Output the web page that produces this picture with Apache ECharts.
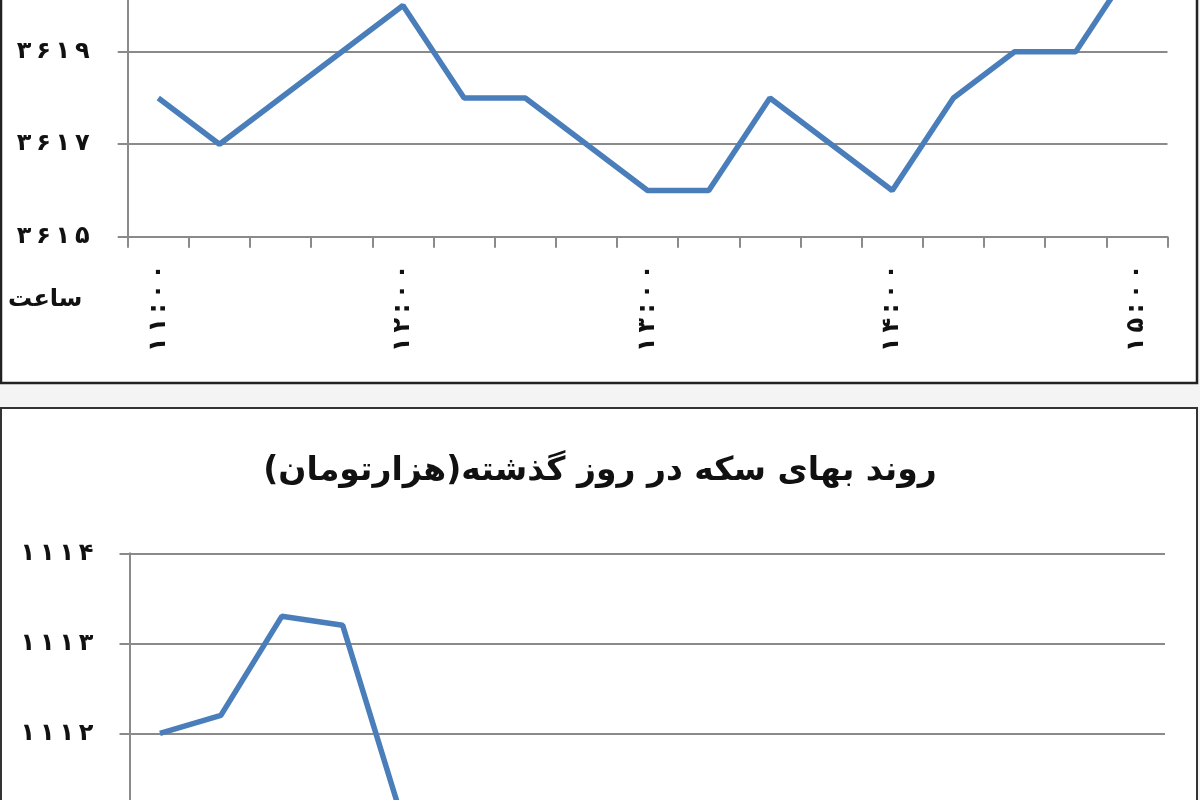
<!DOCTYPE html>
<html><head><meta charset="utf-8">
<script src="https://cdn.jsdelivr.net/npm/echarts@6/dist/echarts.min.js"></script>
<style>html,body{margin:0;padding:0;background:#f4f4f4;overflow:hidden}#c{width:1200px;height:800px}</style>
</head><body><div id="c"></div>
<script>
// categories: quarter-hour times (only full hours are labelled)
const timeLabels = ['11:00','11:15','11:30','11:45','12:00','12:15','12:30','12:45','13:00','13:15','13:30','13:45','14:00','14:15','14:30','14:45','15:00'];
// top chart values (currency)
const topValues = [3618,3617,3618,3619,3620,3618,3618,3617,3616,3616,3618,3617,3616,3618,3619,3619,3621];
const topAxisMin = 3615, topAxisMax = 3621, topAxisStep = 2;
// bottom chart: coin price (thousand toman); only first points visible
const coinValues = [1112,1112.2,1113.3,1113.2,1111,null,null,null,null,null,null,null,null,null,null,null,null];
const coinAxisMin = 1110, coinAxisMax = 1114, coinAxisStep = 1;
const coinTitle = 'روند بهای سکه در روز گذشته(هزارتومان)';
const hourName = 'ساعت';

const FA = '۰۱۲۳۴۵۶۷۸۹';
const toFa = v => String(v).replace(/\d/g, d => FA[+d]);
const spaced = v => toFa(v).split('').join('\u2009');
const FONT = 'DejaVu Sans';
const GRAY = '#8a8a8a';
const BLUE = '#4a7ebb';

function xAxisCfg(gi){
  return {
    type:'category', gridIndex:gi, data:timeLabels, boundaryGap:true,
    axisLine:{show:true, lineStyle:{color:GRAY, width:2}},
    axisTick:{show:true, interval:0, length:11, lineStyle:{color:GRAY, width:2}},
    axisLabel:{interval:3, rotate:90, margin:28, fontSize:24, fontWeight:'bold', color:'#111', fontFamily:FONT, formatter:spaced},
    splitLine:{show:false}
  };
}
function yAxisCfg(gi, mn, mx, st, margin){
  return {
    type:'value', gridIndex:gi, min:mn, max:mx, interval:st,
    axisLine:{show:true, lineStyle:{color:GRAY, width:2}},
    axisTick:{show:true, length:10, lineStyle:{color:GRAY, width:2}},
    axisLabel:{margin:margin, fontSize:24, fontWeight:'bold', color:'#111', fontFamily:FONT, formatter:spaced},
    splitLine:{show:true, lineStyle:{color:GRAY, width:2}}
  };
}

const chart = echarts.init(document.getElementById('c'), null, {renderer:'canvas'});
chart.setOption({
  animation:false,
  backgroundColor:'#f4f4f4',
  title:[{
    text:coinTitle + '\u200F', left:'center', top:450,
    textStyle:{fontSize:33, fontWeight:'bold', color:'#111', fontFamily:FONT}
  }],
  graphic:[
    {type:'rect', z:-10, shape:{x:1, y:-6, width:1196, height:389}, style:{fill:'#fff', stroke:'#222', lineWidth:2.5}},
    {type:'rect', z:-10, shape:{x:1, y:408, width:1196, height:400}, style:{fill:'#fff', stroke:'#333', lineWidth:2}},
    {type:'text', z:5, left:8, top:288, style:{text:hourName, font:'bold 24px "DejaVu Sans"', fill:'#111'}}
  ],
  grid:[
    {left:127.7, right:32.5, top:-40.8, bottom:563.3, outerBoundsMode:'none', containLabel:false},
    {left:129.5, right:35, top:553.3, bottom:-113.5, outerBoundsMode:'none', containLabel:false}
  ],
  xAxis:[xAxisCfg(0), xAxisCfg(1)],
  yAxis:[yAxisCfg(0, topAxisMin, topAxisMax, topAxisStep, 38), yAxisCfg(1, coinAxisMin, coinAxisMax, coinAxisStep, 36)],
  series:[
    {type:'line', xAxisIndex:0, yAxisIndex:0, data:topValues, showSymbol:false, symbol:'none', lineStyle:{color:BLUE, width:5.5}, itemStyle:{color:BLUE}},
    {type:'line', xAxisIndex:1, yAxisIndex:1, data:coinValues, showSymbol:false, symbol:'none', connectNulls:false, lineStyle:{color:BLUE, width:5.5}, itemStyle:{color:BLUE}}
  ]
});
</script></body></html>
